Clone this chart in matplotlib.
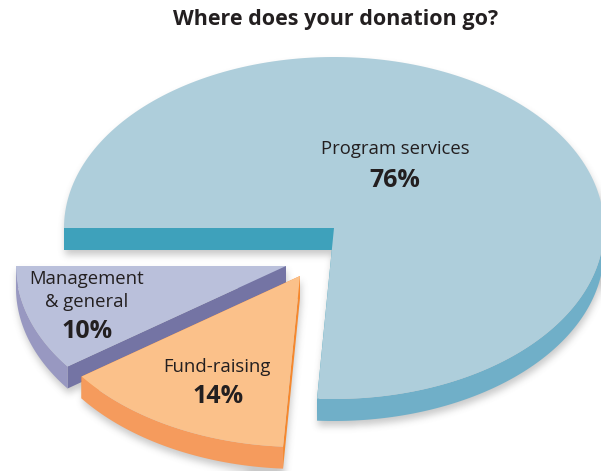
import numpy as np
import matplotlib.pyplot as plt
from matplotlib.patches import Polygon
from matplotlib.path import Path

# slices, going clockwise from 9 o'clock
names = ["Program services", "Fund-raising", "Management\n& general"]
shares = [76, 14, 10]

top_colors = ["#aecedb", "#fbc18a", "#bac0db"]
rim_colors = ["#70afc8", "#f59b5d", "#9898c1"]
cut_colors = ["#3ea1bb", "#f5882e", "#7474a4"]
ink = "#231f20"

# layout in pixels (y grows downward)
W, H = 601, 471
cx, cy = 334, 228
rx, ry = 270, 171
depth = 22
shift = [(0, 0), (-34, 48), (-48, 38)]
name_xy = [(395, 154), (217, 372), (87, 284)]
pct_xy = [(395, 187), (218, 403), (87, 338)]
line_gap = 23
draw_order = [0, 2, 1]

plt.rcParams['font.family'] = ['Open Sans', 'DejaVu Sans']

fig = plt.figure(figsize=(W / 100, H / 100), dpi=100)
ax = fig.add_axes([0, 0, 1, 1])
ax.set_xlim(0, W)
ax.set_ylim(H, 0)
ax.axis('off')


def pt(theta, ox, oy, drop=0):
    t = np.radians(theta)
    return np.column_stack([cx + ox + rx * np.cos(t), cy + oy - ry * np.sin(t) + drop])


def box_blur(a, r):
    for axis in (0, 1):
        p = np.pad(a, [(r + 1, r) if k == axis else (0, 0) for k in (0, 1)], mode='edge')
        s = np.cumsum(p, axis=axis)
        n = a.shape[axis]
        if axis == 0:
            a = (s[2 * r + 1:2 * r + 1 + n] - s[:n]) / (2 * r + 1)
        else:
            a = (s[:, 2 * r + 1:2 * r + 1 + n] - s[:, :n]) / (2 * r + 1)
    return a


# wedge angles from the shares
ends = 180 - 3.6 * np.cumsum(shares)
starts = np.concatenate([[180], ends[:-1]])

pieces = []
for i in draw_order:
    a1, a2 = ends[i], starts[i]
    ox, oy = shift[i]
    c = np.array([[cx + ox, cy + oy]])
    polys = []

    # cut faces
    for a in (a1, a2):
        e = pt(np.array([a]), ox, oy)
        quad = np.vstack([c, e, e + [0, depth], c + [0, depth]])
        polys.append((quad, cut_colors[i]))

    # outer rim, front half only
    lo, hi = max(a1, -180), min(a2, 0)
    if hi > lo:
        th = np.linspace(lo, hi, 200)
        band = np.vstack([pt(th, ox, oy), pt(th[::-1], ox, oy, depth)])
        polys.append((band, rim_colors[i]))

    # top surface
    arc = pt(np.linspace(a1, a2, 200), ox, oy)
    polys.append((np.vstack([c, arc]), top_colors[i]))
    pieces.append(polys)

# soft drop shadow under the whole pie
gx, gy = np.meshgrid(np.arange(W) + 0.5, np.arange(H) + 0.5)
grid = np.column_stack([gx.ravel(), gy.ravel()])
mask = np.zeros(W * H, bool)
for polys in pieces:
    for verts, _ in polys:
        mask |= Path(verts + [1, 5]).contains_points(grid)
mask = mask.reshape(H, W).astype(float)
soft = box_blur(box_blur(box_blur(mask, 3), 3), 3)
shade = np.zeros((H, W, 4))
shade[..., :3] = 0.45
shade[..., 3] = soft * 0.38
ax.imshow(shade, extent=(0, W, H, 0), zorder=0, interpolation='bilinear')

for polys in pieces:
    for verts, col in polys:
        ax.add_patch(Polygon(verts, closed=True, fc=col, ec='none', zorder=1))

for i in range(len(shares)):
    x, y = name_xy[i]
    for k, line in enumerate(names[i].split("\n")):
        ax.text(x, y + k * line_gap, line, ha='center', va='baseline', fontsize=13.3,
                color=ink, zorder=3)
    ax.text(*pct_xy[i], f"{shares[i]}%", ha='center', va='baseline', fontsize=18,
            fontweight='bold', color=ink, zorder=3)

ax.text(336, 25, "Where does your donation go?", ha='center', va='baseline',
        fontsize=15.5, fontweight='bold', color=ink)

fig.savefig("out.png", dpi=100)
